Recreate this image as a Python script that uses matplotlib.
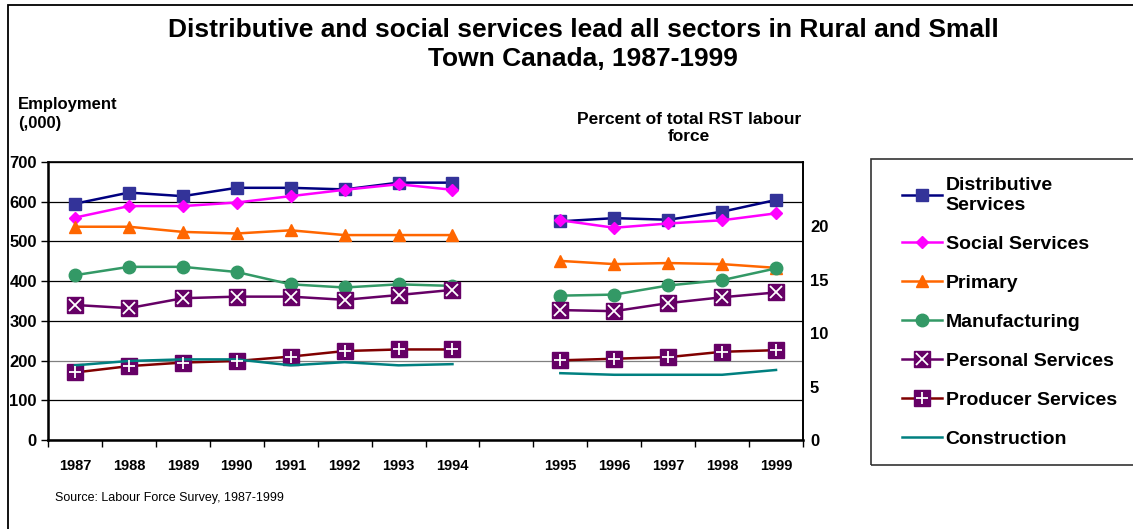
import matplotlib
matplotlib.use('Agg')
import matplotlib.pyplot as plt
from matplotlib import font_manager
from matplotlib.patches import Rectangle
import numpy as np

# ---- datos ----
years_a = ['1987', '1988', '1989', '1990', '1991', '1992', '1993', '1994']
years_b = ['1995', '1996', '1997', '1998', '1999']
categorias = years_a + [''] + years_b

# empleo (miles), 1987-1994
dist_emp = [595, 623, 614, 635, 635, 631, 648, 648]
soc_emp = [560, 589, 589, 598, 614, 630, 644, 630]
prim_emp = [537, 537, 524, 520, 528, 516, 516, 516]
manu_emp = [415, 436, 436, 423, 392, 384, 392, 388]
pers_emp = [340, 332, 357, 361, 361, 353, 365, 378]
prod_emp = [170, 186, 195, 199, 210, 224, 228, 228]
cons_emp = [188, 199, 203, 203, 188, 196, 188, 191]

# porcentaje de la fuerza laboral RST, 1995-1999
dist_pct = [20.45, 20.75, 20.6, 21.35, 22.45]
soc_pct = [20.55, 19.85, 20.25, 20.55, 21.2]
prim_pct = [16.75, 16.45, 16.55, 16.45, 16.1]
manu_pct = [13.5, 13.6, 14.45, 14.95, 16.05]
pers_pct = [12.15, 12.05, 12.8, 13.35, 13.8]
prod_pct = [7.45, 7.6, 7.75, 8.25, 8.4]
cons_pct = [6.25, 6.1, 6.1, 6.1, 6.55]

etiquetas = ['Distributive\nServices', 'Social Services', 'Primary', 'Manufacturing',
             'Personal Services', 'Producer Services', 'Construction']

instaladas = {f.name for f in font_manager.fontManager.ttflist}
narrow = 'Liberation Sans Narrow' if 'Liberation Sans Narrow' in instaladas else None
plt.rcParams['font.family'] = ['Liberation Sans', 'DejaVu Sans']

W, H = 1133, 529
fig = plt.figure(figsize=(W / 100, H / 100), dpi=100)

# marco exterior
fig.patches.append(Rectangle((8 / W, -0.1), 1.2, (529 - 5) / H + 0.1, transform=fig.transFigure,
                             fill=False, edgecolor='black', linewidth=1.3))

ax = fig.add_axes([48 / W, 1 - 440 / H, 755 / W, 278 / H])
ax2 = ax.twinx()

x_a = [categorias.index(y) for y in years_a]
x_b = [categorias.index(y) for y in years_b]

lw = 1.8
estilos = [
    dict(color='#000080', marker='s', ms=8.5, mfc='#333399', mec='#333399'),
    dict(color='#FF00FF', marker='D', ms=6.5, mfc='#FF00FF', mec='#FF00FF'),
    dict(color='#FF6600', marker='^', ms=9, mfc='#FF6600', mec='#FF6600'),
    dict(color='#339966', marker='o', ms=9, mfc='#339966', mec='#339966'),
    dict(color='#660066', marker='s', ms=12, mfc='#660066', mec='#660066'),
    dict(color='#800000', marker='s', ms=12, mfc='#660066', mec='#660066'),
    dict(color='#008080', marker=None),
]
cruces = {4: 'x', 5: '+'}

serie_a = [dist_emp, soc_emp, prim_emp, manu_emp, pers_emp, prod_emp, cons_emp]
serie_b = [dist_pct, soc_pct, prim_pct, manu_pct, pers_pct, prod_pct, cons_pct]

handles = []
for i, (ya, yb) in enumerate(zip(serie_a, serie_b)):
    st = estilos[i]
    h, = ax.plot(x_a, ya, lw=lw, zorder=3, **st)
    ax2.plot(x_b, yb, lw=lw, zorder=3, **st)
    if i in cruces:
        hx, = ax.plot(x_a, ya, ls='none', marker=cruces[i], ms=9, mec='white', mew=1.3, zorder=4)
        ax2.plot(x_b, yb, ls='none', marker=cruces[i], ms=9, mec='white', mew=1.3, zorder=4)
        handles.append((h, hx))
    else:
        handles.append(h)

# eje izquierdo
ax.set_xlim(-0.5, len(categorias) - 0.5)
ax.set_ylim(0, 700)
ax.set_yticks(range(0, 701, 100))
ax.yaxis.grid(True, color='black', linewidth=0.9)
ax.get_ygridlines()[2].set_color('#808080')
ax.set_axisbelow(True)
ax.tick_params(axis='y', length=5, width=1, pad=3, labelsize=12)
for lab in ax.get_yticklabels():
    lab.set_fontweight('bold')

fam_narrow = [narrow, 'Liberation Sans'] if narrow else ['Liberation Sans']
ax.set_xticks(range(len(categorias)))
ax.set_xticklabels(categorias, fontweight='bold', fontsize=11 if narrow else 10.5, family=fam_narrow)
ax.set_xticks(np.arange(-0.5, len(categorias), 1), minor=True)
ax.tick_params(axis='x', which='major', length=0, pad=14)
ax.tick_params(axis='x', which='minor', length=5, width=1, direction='out')

for s in ax.spines.values():
    s.set_linewidth(1.2)
ax.spines['left'].set_linewidth(1.8)
ax.spines['bottom'].set_linewidth(1.8)

# eje derecho
ax2.set_ylim(0, 26)
ax2.set_yticks([0, 5, 10, 15, 20])
ax2.tick_params(axis='y', length=0, pad=5, labelsize=12)
for lab in ax2.get_yticklabels():
    lab.set_fontweight('bold')
ax2.spines['right'].set_linewidth(1.2)

# textos
fig.text(583 / W, 1 - 44.5 / H,
         'Distributive and social services lead all sectors in Rural and Small\nTown Canada, 1987-1999',
         ha='center', va='center', fontsize=19, fontweight='bold', linespacing=1.25)
fig.text(18 / W, 1 - 114 / H, 'Employment\n(,000)', ha='left', va='center',
         fontsize=12, fontweight='bold', linespacing=1.3)
fig.text(689 / W, 1 - 128 / H, 'Percent of total RST labour\nforce', ha='center', va='center',
         fontsize=12.5, fontweight='bold', linespacing=1.2)
fig.text(55 / W, 1 - 498 / H, 'Source: Labour Force Survey, 1987-1999', ha='left', va='center',
         fontsize=10 if narrow else 9, family=fam_narrow)

# leyenda
fig.patches.append(Rectangle((871 / W, 1 - 465 / H), 1.0, (465 - 159) / H, transform=fig.transFigure,
                             fill=False, edgecolor='#333333', linewidth=1.2))
leg = fig.legend(handles, etiquetas, loc='upper left', bbox_to_anchor=(902 / W, 1 - 177 / H),
                 frameon=False, handlelength=2.05, handletextpad=0.2, labelspacing=1.1,
                 borderpad=0, borderaxespad=0,
                 prop=dict(family='Liberation Sans', weight='bold', size=14))

fig.savefig('out.png', dpi=100)
